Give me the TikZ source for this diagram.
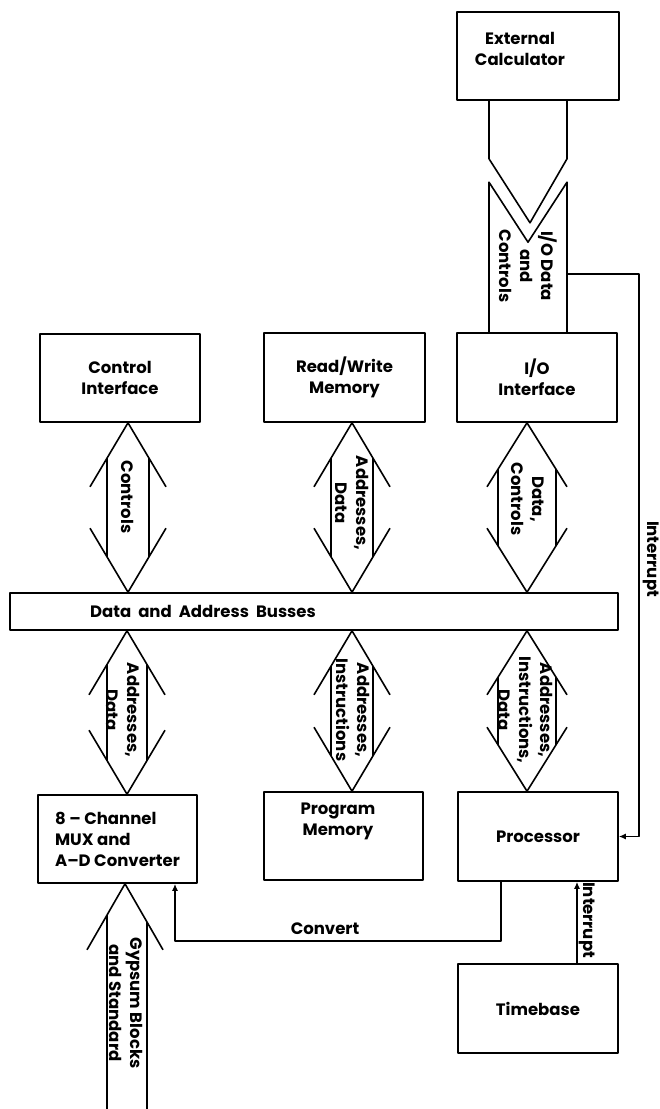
\documentclass[tikz,border=0pt]{standalone}
\usepackage{fontspec}
\setmainfont{Poppins}
\usetikzlibrary{calc,arrows.meta}
\newcommand\dgfont{\fontsize{16.5}{21}\selectfont\bfseries}
\tikzset{
  ln/.style={line width=1.6pt, line join=round},
  box/.style={draw, ln, inner sep=0pt, align=center, font=\dgfont},
  lab/.style={font=\dgfont, align=center, inner sep=0pt},
  vlab/.style={lab, rotate=-90},
  arr/.style={ln, -{Latex[length=7pt,width=6pt]}}
}
% #1 top tip, #2 bottom tip, #3 xshift, #4 head half-width, #5 shaft half-width
\newcommand\dblarr[5]{%
  \path (#1) ++(#3,0) coordinate (dt) (#2) ++(#3,0) coordinate (db);
  \draw[ln] ($(dt)+(-#4,64)$) -- (dt) -- ($(dt)+(#4,64)$);
  \draw[ln] ($(db)+(-#4,-64)$) -- (db) -- ($(db)+(#4,-64)$);
  \draw[ln] ($(dt)+(-#5,{64*#5/#4})$) -- ($(db)+(-#5,{-64*#5/#4})$);
  \draw[ln] ($(dt)+(#5,{64*#5/#4})$) -- ($(db)+(#5,{-64*#5/#4})$);
}
\begin{document}
\begin{tikzpicture}[x=1pt,y=-1pt]
\useasboundingbox (0,0) rectangle (659,1109);

% boxes
\node[box, minimum width=162pt, minimum height=88pt] (ext) at (538,56) {};
\node[lab] (extl) at (520,49) {External\\Calculator};
\node[box, minimum width=160pt, minimum height=88pt] (ci) at (120,378) {Control\\Interface};
\node[box, minimum width=161pt, minimum height=89pt] (rw) at (344.5,377.5) {Read/Write\\Memory};
\node[box, minimum width=160pt, minimum height=89pt] (io) at (537,377.5) {I/O\\Interface};
\node[box, minimum width=608pt, minimum height=37pt] (bus) at (314,611.5) {};
\node[lab] (busl) at (203,611) {Data\ \ and\ \ Address\ \ Busses};
\node[box, minimum width=159pt, minimum height=88pt, align=left] (mux) at (117.5,839) {8 – Channel\\ MUX and\\A–D Converter};
\node[box, minimum width=159pt, minimum height=88pt] (pm) at (343.5,836) {};
\node[lab] (pml) at (338,821) {Program\\Memory};
\node[box, minimum width=160pt, minimum height=89pt] (proc) at (538,836.5) {Processor};
\node[box, minimum width=160pt, minimum height=89pt] (tb) at (538,1008.5) {Timebase};

% double bus arrows
\dblarr{ci.south}{ci.south|-bus.north}{8}{38}{21}
\node[vlab] (l1) at (128,497) {Controls};
\dblarr{rw.south}{rw.south|-bus.north}{7.5}{38}{21}
\node[vlab] (l2) at (352.5,503) {Addresses,\\Data};
\dblarr{io.south}{io.south|-bus.north}{-10}{40}{29}
\node[vlab] (l3) at (527.5,499) {Data,\\Controls};
\dblarr{mux.north|-bus.south}{mux.north}{9.5}{38}{20}
\node[vlab] (l4) at (123.5,710) {Addresses,\\Data};
\dblarr{pm.north|-bus.south}{pm.north}{8.5}{38}{21}
\node[vlab] (l5) at (353,710) {Addresses,\\Instructions};
\dblarr{proc.north|-bus.south}{proc.north}{-11}{40}{29}
\node[vlab] (l6) at (526,710) {Addresses,\\Instructions,\\Data};

% external calculator link
\coordinate (ea) at ($(ext.south)+(-9,0)$);
\coordinate (eb) at ($(io.north)+(-9,0)$);
\draw[ln] ($(ea)+(-40,0)$) -- ++(0,58) -- ($(ea)+(1,122)$) -- ($(ea)+(38,58)$) -- ($(ea)+(38,0)$);
\draw[ln] ($(eb)+(-39,0)$) -- ($(eb)+(-39,-150)$) -- ($(eb)+(0,-90)$) -- ($(eb)+(39,-150)$) -- ($(eb)+(39,0)$);
\node[vlab] (l7) at (528,266) {I/O Data\\and\\Controls};

% interrupt from I/O link
\coordinate (irq) at ($(eb)+(39,-58)$);
\draw[arr] (irq) -- ++(72,0) |- (proc.east);
\node[vlab] (l8) at (651,559) {Interrupt};

% gypsum input
\coordinate (gt) at ($(mux.south)+(7.5,0)$);
\coordinate (gb) at (gt |- 0,1109);
\draw[ln] ($(gt)+(-38,66)$) -- (gt) -- ($(gt)+(38,66)$);
\draw[ln] ($(gt)+(-18,{66*18/38})$) -- ($(gb)+(-18,0)$);
\draw[ln] ($(gt)+(22,{66*22/38})$) -- ($(gb)+(22,0)$);
\node[vlab] (l9) at (126,1003) {Gypsum Blocks\\and Standard};

% convert
\draw[arr] ($(proc.south)+(-37,0)$) -- ++(0,59) -| ($(mux.south)+(57.5,0)$);
\node[lab] (l10) at (325,929) {Convert};

% timebase interrupt
\draw[arr] ($(tb.north)+(39,0)$) -- ($(proc.south)+(39,0)$);
\node[vlab] (l11) at (587,920) {Interrupt};
\end{tikzpicture}
\end{document}
